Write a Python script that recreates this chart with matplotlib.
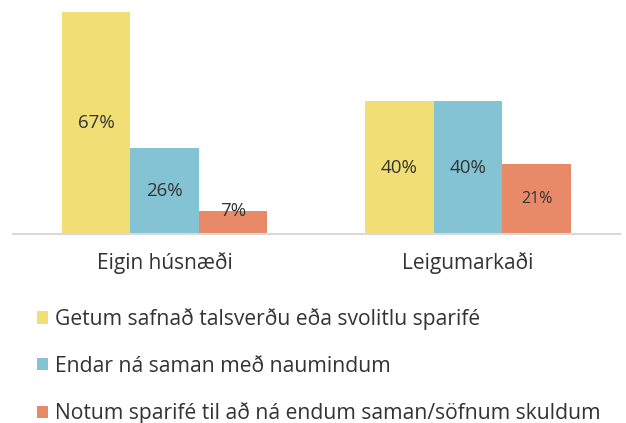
import matplotlib
matplotlib.use("Agg")
import matplotlib.pyplot as plt
import numpy as np

categories = ["Eigin húsnæði", "Leigumarkaði"]
series_names = [
    "Getum safnað talsverðu eða svolitlu sparifé",
    "Endar ná saman með naumindum",
    "Notum sparifé til að ná endum saman/söfnum skuldum",
]
values = [
    [67, 40],
    [26, 40],
    [7, 21],
]
colors = ["#F1DF75", "#83C3D3", "#E88A68"]

plt.rcParams["font.family"] = ["Open Sans", "DejaVu Sans"]
text_color = "#333333"

fig = plt.figure(figsize=(6.26, 4.23), dpi=100)
ax = fig.add_axes([12.7 / 626, 1 - 234 / 423, (620 - 12.7) / 626, (234 - 2) / 423])

x = np.arange(len(categories))
width = 0.226
handles = []
for i, (name, vals, c) in enumerate(zip(series_names, values, colors)):
    pos = x + (i - 1) * width
    b = ax.bar(pos, vals, width, color=c, label=name, zorder=2)
    handles.append(b)
    for px, v in zip(pos, vals):
        ypos = v / 2 if v >= 10 else v
        fs = 11.5 if v == 21 else 13.5
        ax.text(px, ypos, f"{v}%", ha="center", va="center", fontsize=fs,
                color=text_color)

ax.set_xlim(-0.5, 1.5)
ax.set_ylim(0, 70)
for s in ["top", "right", "left"]:
    ax.spines[s].set_visible(False)
ax.spines["bottom"].set_color("#D9D9D9")
ax.spines["bottom"].set_linewidth(1.5)
ax.set_yticks([])
ax.set_xticks(x)
ax.set_xticklabels(categories, fontsize=15, color=text_color)
ax.tick_params(axis="x", length=0, pad=13)

fig.legend(handles=handles, labels=series_names, loc="upper left",
           bbox_to_anchor=(37 / 626, 1 - 308 / 423), frameon=False,
           handlelength=0.53, handleheight=0.53, handletextpad=0.3,
           labelspacing=1.22, borderpad=0, borderaxespad=0,
           labelcolor=text_color, prop={"family": ["Open Sans", "DejaVu Sans"], "size": 15.2})

fig.savefig("out.png", dpi=100)
